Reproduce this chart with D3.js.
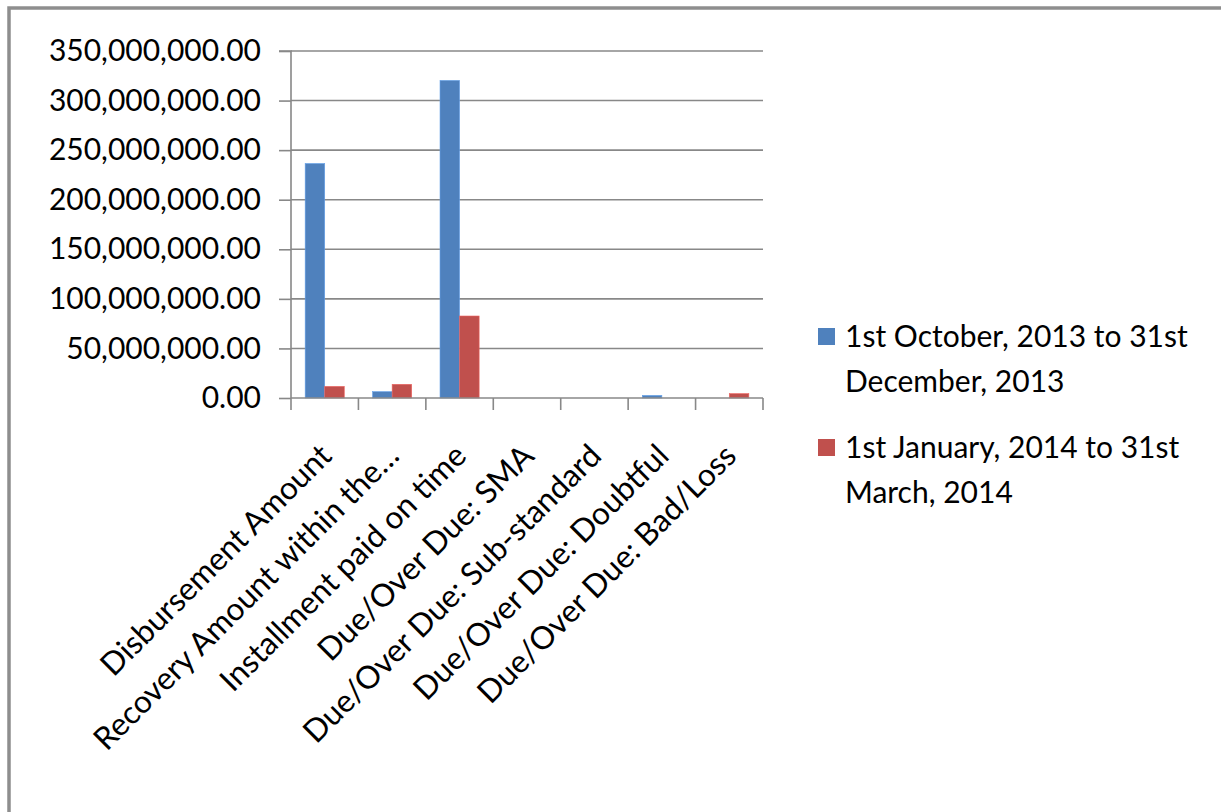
<!DOCTYPE html>
<html><head><meta charset="utf-8">
<script src="https://cdn.jsdelivr.net/npm/d3@7"></script>
<style>body{margin:0;background:#fff}svg{display:block}</style>
</head><body>
<svg id="c" width="1221" height="812"></svg>
<script>
const categories = ["Disbursement Amount","Recovery Amount within the…","Installment paid on time","Due/Over Due: SMA","Due/Over Due: Sub-standard","Due/Over Due: Doubtful","Due/Over Due: Bad/Loss"];
const seriesNames = ["1st October, 2013 to 31st December, 2013","1st January, 2014 to 31st March, 2014"];
const seriesLegendLines = [["1st October, 2013 to 31st","December, 2013"],["1st January, 2014 to 31st","March, 2014"]];
const series1 = [236500000, 6400000, 320300000, 0, 0, 2600000, 0];
const series2 = [11700000, 13800000, 82700000, 0, 0, 0, 4400000];
const yTicks = [0,50000000,100000000,150000000,200000000,250000000,300000000,350000000];
const colors = ["#4F81BD","#C0504D"];

const svg = d3.select("#c");
const font = "Lato, 'Open Sans', sans-serif";
// outer frame
svg.append("rect").attr("x",9).attr("y",8).attr("width",1240).attr("height",840)
  .attr("fill","none").attr("stroke","#8e8e8e").attr("stroke-width",3.5);

const L=291, R=763, T=51, B=398;
const x0 = d3.scaleBand().domain(categories).range([L,R]).paddingInner(0.42).paddingOuter(0.21);
const band = d3.scaleBand().domain(categories).range([L,R]);
const x1 = d3.scaleBand().domain([0,1]).range([0,x0.bandwidth()]);
const y = d3.scaleLinear().domain([0,350000000]).range([B,T]);

// gridlines
svg.append("g").selectAll("line").data(yTicks.slice(1)).join("line")
  .attr("x1",L).attr("x2",R).attr("y1",d=>y(d)).attr("y2",d=>y(d))
  .attr("stroke","#888").attr("stroke-width",1.6);

// bars
const data = categories.map((c,i)=>({c, v:[series1[i],series2[i]]}));
const g = svg.append("g");
data.forEach(d=>{
  d.v.forEach((v,k)=>{
    if(v<=0) return;
    g.append("rect").attr("x",x0(d.c)+x1(k)).attr("y",y(v))
      .attr("width",x1.bandwidth()).attr("height",B-y(v))
      .attr("fill",colors[k]).attr("stroke",d3.color(colors[k]).brighter(0.6)).attr("stroke-width",0.6);
  });
});

// y axis
const yAxis = d3.axisLeft(y).tickValues(yTicks).tickSize(12).tickPadding(18)
  .tickFormat(d=>d3.format(",.2f")(d));
const ya = svg.append("g").attr("transform",`translate(${L},0)`).call(yAxis);
ya.select(".domain").attr("stroke","#888").attr("stroke-width",1.6).attr("d",`M-12,${T}H0V${B}`);
ya.selectAll(".tick line").attr("stroke","#888").attr("stroke-width",1.6);
ya.selectAll("text").attr("font-family",font).attr("font-size",30).attr("fill","#000");

// x axis
const xAxis = d3.axisBottom(band).tickSize(0).tickFormat("");
const xa = svg.append("g").attr("transform",`translate(0,${B})`).call(xAxis);
xa.select(".domain").attr("stroke","#888").attr("stroke-width",1.6).attr("d",`M${L},0H${R}`);
const bounds = [L].concat(categories.map(c=>band(c)+band.bandwidth()));
xa.append("g").selectAll("line").data(bounds).join("line")
  .attr("x1",d=>d).attr("x2",d=>d).attr("y1",0).attr("y2",12)
  .attr("stroke","#888").attr("stroke-width",1.6);
xa.append("g").selectAll("text").data(categories).join("text")
  .attr("transform",c=>`translate(${band(c)+band.bandwidth()/2+1},${52}) rotate(-45)`)
  .attr("text-anchor","end").attr("dy","0.35em")
  .attr("font-family",font).attr("font-size",31.5).attr("fill","#000").text(c=>c);

// legend
const lg = svg.append("g");
const legY = [336, 447];
seriesLegendLines.forEach((lines,k)=>{
  lg.append("rect").attr("x",818).attr("y",legY[k]-8).attr("width",17).attr("height",17).attr("fill",colors[k]);
  lines.forEach((t,j)=>{
    lg.append("text").attr("x",845).attr("y",legY[k]+j*45).attr("dy","0.35em")
      .attr("font-family",font).attr("font-size",30).attr("fill","#000").text(t);
  });
});
</script>
</body></html>
